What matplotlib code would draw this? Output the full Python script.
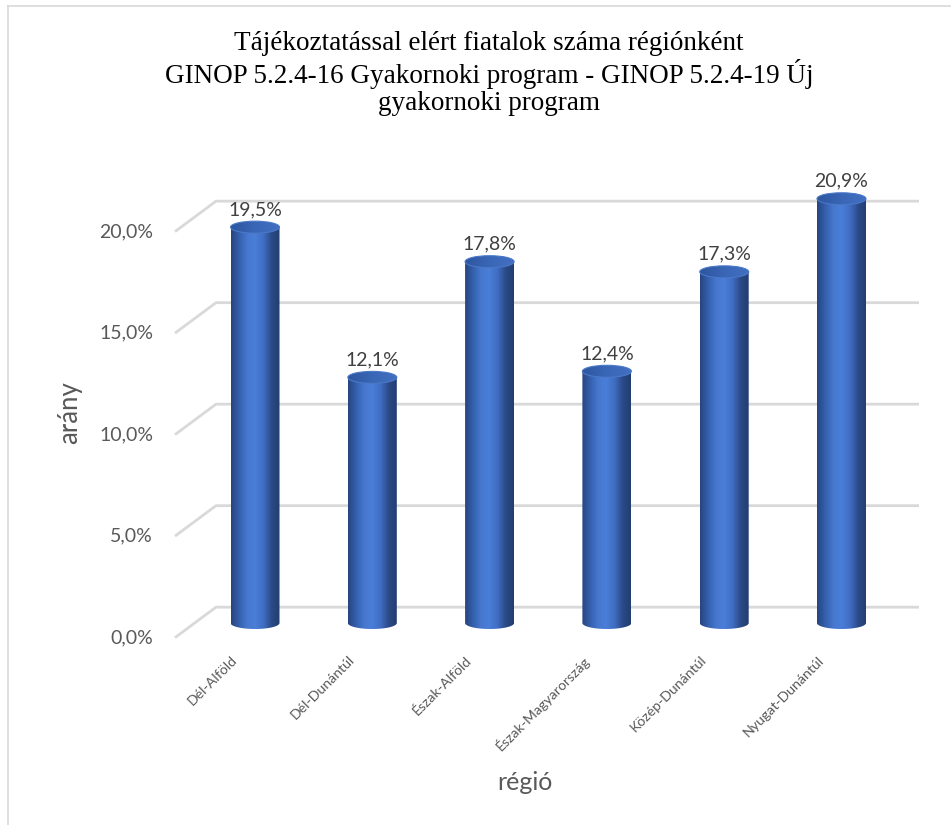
import matplotlib
matplotlib.use("Agg")
import matplotlib.pyplot as plt
import numpy as np
from matplotlib.colors import LinearSegmentedColormap
from matplotlib.path import Path
from matplotlib.patches import PathPatch, Ellipse
from matplotlib.lines import Line2D

# ------------------------------------------------------------------
#  data
# ------------------------------------------------------------------
regions = ['Dél-Alföld', 'Dél-Dunántúl', 'Észak-Alföld',
           'Észak-Magyarország', 'Közép-Dunántúl', 'Nyugat-Dunántúl']
shares = [19.5, 12.1, 17.8, 12.4, 17.3, 20.9]
y_ticks = [0, 5, 10, 15, 20]
title_lines = ['Tájékoztatással elért fiatalok száma régiónként',
               'GINOP 5.2.4-16 Gyakornoki program - GINOP 5.2.4-19 Új',
               'gyakornoki program']

# ------------------------------------------------------------------
#  layout (pixel geometry of the 3D look)
# ------------------------------------------------------------------
W, H = 951, 825
px_x = 117.3          # px per category
px_y = 20.3           # px per percent
x0_px, base_px = 255, 623

text_col = '#595959'
grid_col = '#d9d9d9'
label_font = 'Lato'

body_cmap = LinearSegmentedColormap.from_list(
    'body', ['#26457e', '#3560ae', '#4678cf', '#4a7ed8', '#3f6dc2', '#2a4a86', '#223d70'])
top_cmap = LinearSegmentedColormap.from_list('top', ['#2d569f', '#3a66b6', '#4270c2'])

fig = plt.figure(figsize=(W / 100, H / 100), dpi=100)
ax = fig.add_axes([0, 0, 1, 1])
ax.set_xlim(-x0_px / px_x, (W - x0_px) / px_x)
ax.set_ylim((base_px - H) / px_y, base_px / px_y)
ax.axis('off')

# outer chart border (left and top only visible)
fig.add_artist(Line2D([8 / W, 8 / W], [0, 1 - 6 / H], color=grid_col, lw=1.2))
fig.add_artist(Line2D([8 / W, 1], [1 - 6 / H, 1 - 6 / H], color=grid_col, lw=1.2))

# 3D gridlines: back wall + diagonal floor connector
back_dy, front_dy = 0.78, -0.72
x_back_left = (216 - x0_px) / px_x
x_back_right = (919 - x0_px) / px_x
x_front = (175 - x0_px) / px_x
for t in y_ticks:
    ax.plot([x_front, x_back_left, x_back_right], [t + front_dy, t + back_dy, t + back_dy],
            color=grid_col, lw=2, solid_capstyle='butt', zorder=1)
    ax.text((153 - x0_px) / px_x, t + front_dy, f'{t:.1f}%'.replace('.', ','),
            ha='right', va='center', fontsize=14, color=text_col, family=label_font)

# cylinders
bw = 49 / px_x
eh = 12 / px_y
tt = np.linspace(0, np.pi, 60)
grad = np.linspace(0, 1, 256).reshape(1, -1)
for i, v in enumerate(shares):
    xl, xr = i - bw / 2, i + bw / 2
    arc_x = i + bw / 2 * np.cos(tt)
    arc_y = -eh / 2 * np.sin(tt)
    verts = np.vstack([[[xl, v], [xr, v]], np.column_stack([arc_x, arc_y]), [[xl, v]]])
    clip = PathPatch(Path(verts), transform=ax.transData, facecolor='none', edgecolor='none')
    ax.add_patch(clip)
    im = ax.imshow(grad, cmap=body_cmap, extent=[xl, xr, -eh, v], aspect='auto',
                   interpolation='bilinear', zorder=3)
    im.set_clip_path(clip)
    top = Ellipse((i, v), bw, eh, facecolor='none', edgecolor='#4a78c8', lw=0.8, zorder=5)
    ax.add_patch(top)
    im2 = ax.imshow(grad, cmap=top_cmap, extent=[xl, xr, v - eh / 2, v + eh / 2],
                    aspect='auto', interpolation='bilinear', zorder=4)
    im2.set_clip_path(top)
    ax.text(i, v + eh / 2 + 0.15, f'{v:.1f}%'.replace('.', ','), ha='center', va='bottom',
            fontsize=14, color='#404040', family=label_font)
    ax.text(i - 20 / px_x, (base_px - 658) / px_y, regions[i], rotation=45,
            rotation_mode='anchor', ha='right', va='center', fontsize=10.2,
            color=text_col, family=label_font)

# titles and axis labels
fig.text(489 / W, 1 - 31 / H, '\n'.join(title_lines), ha='center', va='top',
         fontsize=19.5, family='Liberation Serif', color='#000000', linespacing=1.12)
fig.text(70 / W, 1 - 413 / H, 'arány', rotation=90, ha='center', va='center',
         fontsize=18.5, color=text_col, family=label_font)
fig.text(525 / W, 1 - 783 / H, 'régió', ha='center', va='center',
         fontsize=18, color=text_col, family=label_font)

fig.savefig('out.png', dpi=100)
